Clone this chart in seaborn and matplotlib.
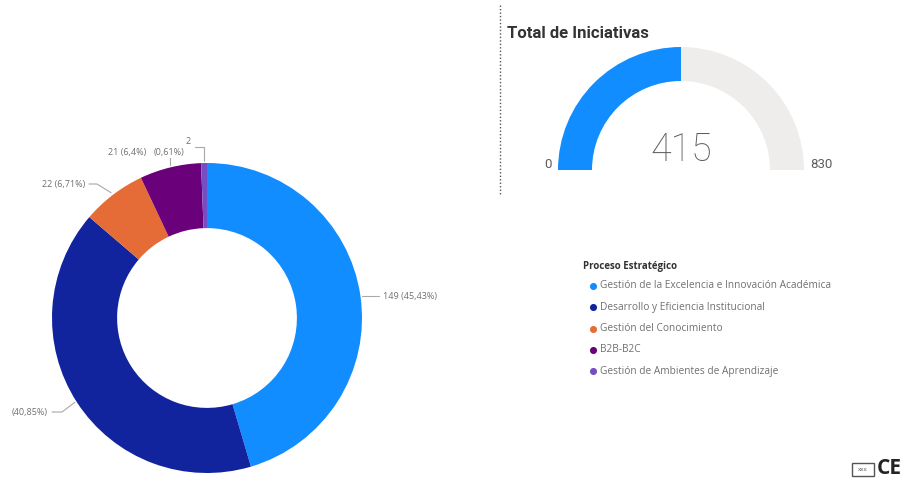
import numpy as np
import matplotlib
matplotlib.use("Agg")
import matplotlib.pyplot as plt
from matplotlib.patches import Rectangle
import seaborn as sns

# ---- data ----
categories = ["Gestión de la Excelencia e Innovación Académica",
              "Desarrollo y Eficiencia Institucional",
              "Gestión del Conocimiento",
              "B2B-B2C",
              "Gestión de Ambientes de Aprendizaje"]
values = [149, 134, 22, 21, 2]
pct_labels = ["149 (45,43%)", "(40,85%)", "22 (6,71%)", "21 (6,4%)", "(0,61%)"]
colors = ["#118DFF", "#12239E", "#E66C37", "#6B007B", "#744EC2"]

gauge_value = 415
gauge_min = 0
gauge_max = 830
gauge_title = "Total de Iniciativas"
legend_title = "Proceso Estratégico"

sns.set_theme(style="white")
plt.rcParams['font.family'] = ['Open Sans', 'DejaVu Sans']

W, H = 924, 482
fig = plt.figure(figsize=(W / 100, H / 100), dpi=100)
ax = fig.add_axes([0, 0, 1, 1])

def Y(y):
    return H - y

txt_col = "#707070"
line_col = "#A8A8A8"
LFS = 6.5

# ---- donut ----
cx, cy, R = 207, 318, 155
wedges, _ = ax.pie(values, colors=colors, startangle=90, counterclock=False,
                   radius=R, center=(cx, Y(cy)),
                   wedgeprops=dict(width=R * 0.42, linewidth=0))

# leader lines and labels
text_pos = [(383, 296, "left"), (48, 412, "right"), (85, 184, "right"),
            (146, 153, "right"), (184, 153, "right")]
for i, w in enumerate(wedges):
    mid = np.deg2rad((w.theta1 + w.theta2) / 2)
    px = cx + R * np.cos(mid)
    py = Y(cy) + R * np.sin(mid)
    tx, ty, ha = text_pos[i]
    if i == 4:
        ax.plot([px, px, px - 9], [py + 2, Y(147), Y(147)], color=line_col, lw=0.8)
        ax.text(px - 13, Y(142), str(values[i]), fontsize=LFS, color=txt_col,
                ha="right", va="center")
        ax.text(tx, Y(ty), pct_labels[i], fontsize=LFS, color=txt_col,
                ha="right", va="center")
        continue
    if ha == "left":
        ax.plot([px + 2, tx - 4], [Y(ty), Y(ty)], color=line_col, lw=0.8)
    elif i == 1:
        ax.plot([tx + 4, tx + 14, px - 2], [Y(ty), Y(ty), py], color=line_col, lw=0.8)
    elif i == 2:
        ax.plot([tx + 4, tx + 12, px - 2], [Y(ty), Y(ty), py + 2], color=line_col, lw=0.8)
    elif i == 3:
        ax.plot([px, px], [py + 2, Y(ty) - 5], color=line_col, lw=0.8)
    ax.text(tx, Y(ty), pct_labels[i], fontsize=LFS, color=txt_col, ha=ha, va="center")

# ---- gauge ----
gx, gy, GR = 681, 170, 123
ax.pie([gauge_value - gauge_min, gauge_max - gauge_value, gauge_max - gauge_min],
       colors=["#118DFF", "#EEEDEC", "none"], startangle=180, counterclock=False,
       radius=GR, center=(gx, Y(gy)), wedgeprops=dict(width=34, linewidth=0))
ax.text(gx, Y(150), f"{gauge_value}", fontsize=27, color="#605E5C",
        ha="center", va="center", family=["Roboto", "DejaVu Sans"], fontweight="light")
ax.text(548, Y(165), f"{gauge_min}", fontsize=9.5, color="#605E5C", ha="center", va="center",
        family=["Roboto", "DejaVu Sans"])
ax.text(821, Y(165), f"{gauge_max}", fontsize=9.5, color="#605E5C", ha="center", va="center",
        family=["Roboto", "DejaVu Sans"])
ax.text(507, Y(33), gauge_title, fontsize=12, color="#333333", ha="left", va="center",
        fontweight="bold", family=["Roboto", "DejaVu Sans"])
ax.plot([500, 500], [Y(5), Y(195)], color="#555555", lw=1.0, linestyle=(0, (1, 1.5)))

# ---- legend ----
ax.text(583, Y(267), legend_title, fontsize=7, color="#333333", fontweight="bold",
        ha="left", va="center")
for i, (c, lab) in enumerate(zip(colors, categories)):
    yy = 286 + i * 21.3
    ax.scatter([593], [Y(yy)], s=26, color=c, linewidths=0)
    ax.text(600, Y(yy), lab, fontsize=7.3, color=txt_col, ha="left", va="center")

# ---- logo fragment ----
ax.add_patch(Rectangle((852, Y(476)), 22, 13, fill=False, edgecolor="#555555", lw=1))
ax.text(863, Y(469.5), "xxx", fontsize=4.5, color="#555555", ha="center", va="center")
ax.text(877, Y(469), "CE", fontsize=15, fontweight="bold", color="#252423",
        ha="left", va="center")

ax.set_xlim(0, W)
ax.set_ylim(0, H)
ax.set_aspect("auto")
ax.axis("off")
fig.savefig("out.png", dpi=100, facecolor="white")
